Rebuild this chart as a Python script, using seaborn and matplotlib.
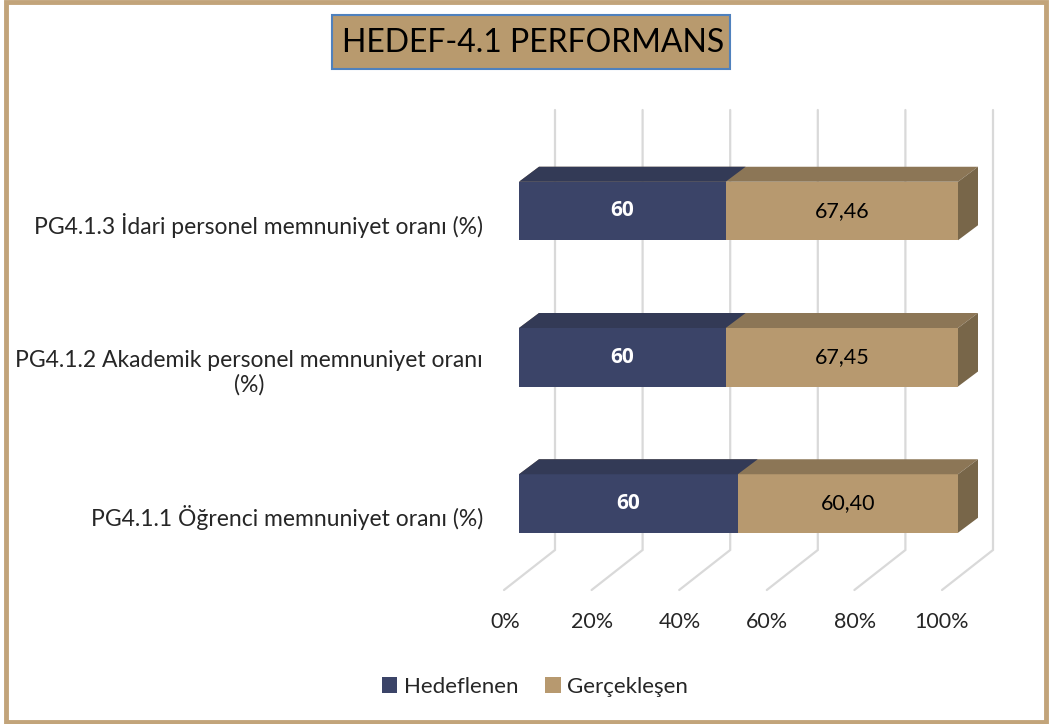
import numpy as np
import pandas as pd
import matplotlib
matplotlib.use("Agg")
import matplotlib.pyplot as plt
from matplotlib.patches import Rectangle, Polygon
import seaborn as sns

# ---- data ----
categories = [
    "PG4.1.3 İdari personel memnuniyet oranı (%)",
    "PG4.1.2 Akademik personel memnuniyet oranı\n(%)",
    "PG4.1.1 Öğrenci memnuniyet oranı (%)",
]
hedeflenen = [60, 60, 60]
gerceklesen = [67.46, 67.45, 60.40]
series_names = ["Hedeflenen", "Gerçekleşen"]
tick_labels = ["0%", "20%", "40%", "60%", "80%", "100%"]
title = "HEDEF-4.1 PERFORMANS"

NAVY = "#3B4468"
NAVY_TOP = "#333A56"
TAN = "#B7996F"
TAN_TOP = "#8C7656"
TAN_SIDE = "#786649"
GRID = "#D9D9D9"

sns.set_theme(style="white")
plt.rcParams["font.family"] = ["Lato", "DejaVu Sans"]
FS_Y = 16.5
FS_X = 15.5
FS_VAL = 15.5
FS_VAL_B = 15
FS_LEG = 16
FS_TITLE = 23

W, H = 1049, 724
fig = plt.figure(figsize=(W / 100, H / 100), dpi=100)

# axes in pixel geometry
ax_l, ax_r, ax_t, ax_b = 490, 1020, 95, 600
ax = fig.add_axes([ax_l / W, 1 - ax_b / H, (ax_r - ax_l) / W, (ax_b - ax_t) / H])

# px -> data mapping (bar front plane)
X0, XSCALE = 519.0, 439.0
Y0, YSCALE = 211.0, 146.25
def dx(px):
    return px / XSCALE
def dy(px):
    return px / YSCALE
def xd(px):
    return (px - X0) / XSCALE
def yd(py):
    return (py - Y0) / YSCALE

df = pd.DataFrame({"cat": categories, "h": hedeflenen, "g": gerceklesen})
df["total"] = df["h"] + df["g"]
df["frac_total"] = df["total"] / df["total"]
df["frac_h"] = df["h"] / df["total"]

sns.barplot(data=df, x="frac_total", y="cat", color=TAN, saturation=1,
            width=0.40, ax=ax, zorder=3, linewidth=0, orient="y")
n_tan = len(ax.patches)
sns.barplot(data=df, x="frac_h", y="cat", color=NAVY, saturation=1,
            width=0.40, ax=ax, zorder=4, linewidth=0, orient="y")

ax.set_xlim(xd(ax_l), xd(ax_r))
ax.set_ylim(yd(ax_b), yd(ax_t))

# depth offset of the 3D bars
DDX, DDY = dx(20), dy(-15)

tan_patches = ax.patches[:n_tan]
navy_patches = ax.patches[n_tan:]
for p in tan_patches:
    x0, y0 = p.get_x(), p.get_y()
    x1, y1 = x0 + p.get_width(), y0 + p.get_height()
    yt, yb = min(y0, y1), max(y0, y1)
    ax.add_patch(Polygon([(x0, yt), (x1, yt), (x1 + DDX, yt + DDY), (x0 + DDX, yt + DDY)],
                         closed=True, fc=TAN_TOP, ec="none", zorder=3))
    ax.add_patch(Polygon([(x1, yt), (x1, yb), (x1 + DDX, yb + DDY), (x1 + DDX, yt + DDY)],
                         closed=True, fc=TAN_SIDE, ec="none", zorder=3))
for p in navy_patches:
    x0, y0 = p.get_x(), p.get_y()
    x1, y1 = x0 + p.get_width(), y0 + p.get_height()
    yt = min(y0, y1)
    ax.add_patch(Polygon([(x0, yt), (x1, yt), (x1 + DDX, yt + DDY), (x0 + DDX, yt + DDY)],
                         closed=True, fc=NAVY_TOP, ec="none", zorder=4))

# value labels
def fmt(v):
    return str(int(v)) if float(v).is_integer() else f"{v:.2f}".replace(".", ",")
for i, (pt, pn) in enumerate(zip(tan_patches, navy_patches)):
    yc = pn.get_y() + pn.get_height() / 2
    xn = pn.get_x() + pn.get_width() / 2
    xt = (pn.get_x() + pn.get_width() + pt.get_x() + pt.get_width()) / 2
    ax.text(xn, yc, fmt(df["h"][i]), ha="center", va="center", color="white",
            fontsize=FS_VAL_B, fontweight="bold", family=["Open Sans", "DejaVu Sans"],
            zorder=6)
    ax.text(xt, yc, fmt(df["g"][i]), ha="center", va="center", color="#000000",
            fontsize=FS_VAL, zorder=6)

# 3D gridlines: back wall verticals + floor diagonals
wall_shift = dx(36)
y_top, y_bot = yd(110), yd(550)
fl_dx, fl_dy = dx(-51), dy(40)
for k in range(6):
    xv = k * 0.2 * (438 / 439) + wall_shift
    ax.plot([xv, xv, xv + fl_dx], [y_top, y_bot, y_bot + fl_dy],
            color=GRID, lw=1.6, zorder=1, solid_joinstyle="miter")

# axis ticks / labels
ax.set_xticks([xd(505 + 87.4 * k) for k in range(6)])
ax.set_xticklabels(tick_labels, fontsize=FS_X)
ax.set_yticks([i + dy(12) for i in range(len(categories))])
ax.set_yticklabels(categories, fontsize=FS_Y, multialignment="center")
ax.tick_params(axis="x", length=0, pad=9)
ax.tick_params(axis="y", length=0, pad=5)
ax.set_xlabel("")
ax.set_ylabel("")
for s in ax.spines.values():
    s.set_visible(False)
ax.set_facecolor("none")

# legend
handles = [Rectangle((0, 0), 1, 1, fc=NAVY, ec="none"),
           Rectangle((0, 0), 1, 1, fc=TAN, ec="none")]
fig.legend(handles, series_names, loc="center", bbox_to_anchor=(535 / W, 1 - 687 / H),
           ncol=2, frameon=False, fontsize=FS_LEG, handlelength=0.7, handleheight=0.7,
           handletextpad=0.3, columnspacing=1.2)

# title box
fig.patches.append(Rectangle((332 / W, 1 - 69 / H), (730 - 332) / W, (69 - 15) / H,
                             transform=fig.transFigure, fc="#B89A6E", ec="#4F81BD",
                             lw=1.5, zorder=1))
fig.text(533 / W, 1 - 43 / H, title, ha="center", va="center", fontsize=FS_TITLE,
         color="black", zorder=2)

# outer frame
fig.patches.append(Rectangle((6 / W, 2 / H), (1046 - 6) / W, (722 - 2) / H,
                             transform=fig.transFigure, fc="none", ec="#C2A47A",
                             lw=3.5, zorder=0))

fig.savefig("out.png", dpi=100)
